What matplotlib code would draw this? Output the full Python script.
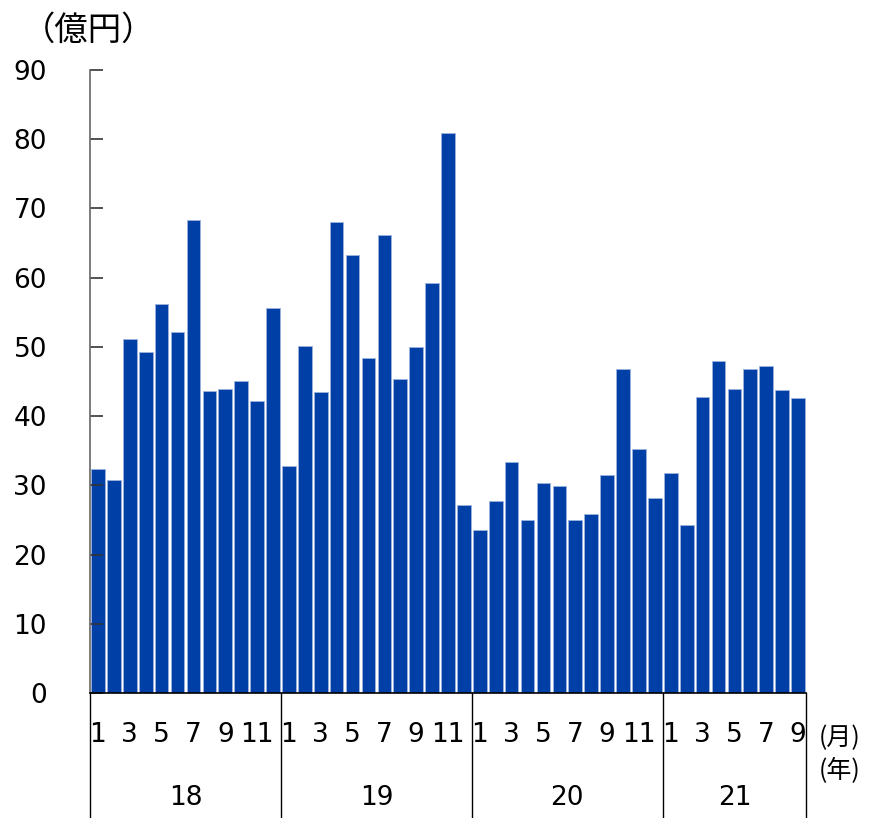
import matplotlib.pyplot as plt
import numpy as np

# monthly values (億円), Jan 2018 - Sep 2021
values_2018 = [32.4, 30.8, 51.1, 49.3, 56.2, 52.2, 68.3, 43.6, 43.9, 45.1, 42.2, 55.6]
values_2019 = [32.8, 50.1, 43.5, 68.0, 63.3, 48.4, 66.2, 45.4, 50.0, 59.2, 80.9, 27.2]
values_2020 = [23.5, 27.7, 33.4, 25.0, 30.3, 29.9, 25.0, 25.9, 31.5, 46.8, 35.2, 28.2]
values_2021 = [31.8, 24.3, 42.8, 48.0, 43.9, 46.8, 47.2, 43.8, 42.6]
years = ["18", "19", "20", "21"]
month_ticks = [1, 3, 5, 7, 9, 11]
y_ticks = [0, 10, 20, 30, 40, 50, 60, 70, 80, 90]

plt.rcParams["font.family"] = ["DejaVu Sans", "Noto Sans CJK JP"]

year_values = [values_2018, values_2019, values_2020, values_2021]
values = np.concatenate(year_values)
x = np.arange(len(values))

fig = plt.figure(figsize=(8.69, 8.18), dpi=100)
ax = fig.add_axes([0.1036, 0.1528, 0.8239, 0.7616])

ax.bar(x, values, width=0.86, color="#003FA6", edgecolor="#9DB3DD", linewidth=0.6)

ax.set_xlim(-0.5, len(values) - 0.5)
ax.set_ylim(0, 90)
ax.set_yticks(y_ticks)
ax.set_yticklabels([str(v) for v in y_ticks], fontsize=19)
ax.tick_params(axis="y", direction="in", length=9, width=1.2, pad=31, colors="#333333", labelcolor="black")
ax.set_xticks([])
ax.spines["top"].set_visible(False)
ax.spines["right"].set_visible(False)
ax.spines["left"].set_color("#666666")
ax.spines["left"].set_linewidth(1.2)
ax.spines["bottom"].set_color("black")
ax.spines["bottom"].set_linewidth(1.2)

trans = ax.get_xaxis_transform()
start = 0
for yr, vals in zip(years, year_values):
    n = len(vals)
    ax.plot([start - 0.5, start - 0.5], [0, -0.21], transform=trans, color="black",
            linewidth=1, clip_on=False)
    for m in month_ticks:
        if m <= n:
            ax.text(start + m - 1, -0.067, str(m), transform=trans, ha="center",
                    va="center", fontsize=19)
    ax.text(start + (n - 1) / 2, -0.168, yr, transform=trans, ha="center",
            va="center", fontsize=19)
    start += n
ax.plot([start - 0.5, start - 0.5], [0, -0.21], transform=trans, color="black",
        linewidth=1, clip_on=False)

fig.text(0.966, 1 - 738 / 818, "(月)", ha="center", va="center", fontsize=18,
         family=["Noto Sans CJK JP", "DejaVu Sans"])
fig.text(0.966, 1 - 771 / 818, "(年)", ha="center", va="center", fontsize=18,
         family=["Noto Sans CJK JP", "DejaVu Sans"])
fig.text(0.025, 1 - 30 / 818, "（億円）", ha="left", va="center", fontsize=24,
         family=["Noto Sans CJK JP", "DejaVu Sans"])

fig.savefig("out.png", dpi=100, facecolor="white")
